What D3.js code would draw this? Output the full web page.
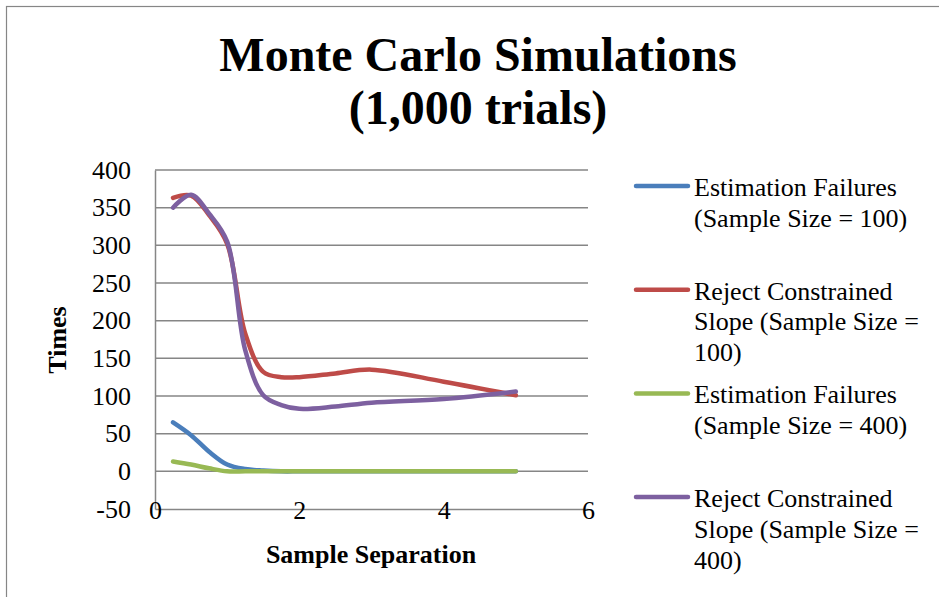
<!DOCTYPE html>
<html>
<head>
<meta charset="utf-8">
<script src="https://cdn.jsdelivr.net/npm/d3@7"></script>
<style>
  html, body { margin: 0; padding: 0; background: #fff; }
  svg { display: block; }
</style>
</head>
<body>
<svg id="chart" width="939" height="597"></svg>
<script>
// ---- data ----
const titleLines = ["Monte Carlo Simulations", "(1,000 trials)"];
const xTitle = "Sample Separation";
const yTitle = "Times";
const xValues = [0.25, 0.5, 0.75, 1, 1.25, 1.5, 1.75, 2, 2.5, 3, 4, 5];
const seriesNames = [
  "Estimation Failures (Sample Size = 100)",
  "Reject Constrained Slope (Sample Size = 100)",
  "Estimation Failures (Sample Size = 400)",
  "Reject Constrained Slope (Sample Size = 400)"
];
const estFail100   = [65, 48, 26, 9, 3, 1, 0, 0, 0, 0, 0, 0];
const rejSlope100  = [363, 366, 340, 302, 183, 132, 125, 125, 130, 135, 119, 101];
const estFail400   = [13, 9, 4, 0, 0, 0, 0, 0, 0, 0, 0, 0];
const rejSlope400  = [350, 367, 342, 305, 161, 101, 88, 83, 86, 91, 96, 106];
const seriesColors = ["#4A7EBB", "#BE4B48", "#98B954", "#7D60A0"];
const yTicks = [-50, 0, 50, 100, 150, 200, 250, 300, 350, 400];
const xTicks = [0, 2, 4, 6];

const seriesValues = [estFail100, rejSlope100, estFail400, rejSlope400];
const FONT = "'Liberation Serif', 'Times New Roman', serif";

// ---- layout ----
const svg = d3.select("#chart");
const plot = { left: 155, right: 588, top: 170, bottom: 509 };
const x = d3.scaleLinear().domain([0, 6]).range([plot.left, plot.right]);
const y = d3.scaleLinear().domain([-50, 400]).range([plot.bottom, plot.top]);
const gridColor = "#868686";

// chart border
svg.append("rect")
  .attr("x", 6.5).attr("y", 6.5).attr("width", 960).attr("height", 620)
  .attr("fill", "none").attr("stroke", gridColor).attr("stroke-width", 1.2);

// title
svg.append("g").selectAll("text").data(titleLines).join("text")
  .attr("x", 478).attr("y", (d, i) => 71 + i * 53)
  .attr("text-anchor", "middle").style("font-family", FONT)
  .attr("font-size", 48).attr("font-weight", "bold").attr("fill", "#000")
  .text(d => d);

// gridlines
svg.append("g").selectAll("line").data(yTicks.filter(t => t !== -50)).join("line")
  .attr("x1", plot.left).attr("x2", plot.right)
  .attr("y1", d => y(d)).attr("y2", d => y(d))
  .attr("stroke", gridColor).attr("stroke-width", 1.5);

// axes
const fmt = d => String(d);
const yAxis = d3.axisLeft(y).tickValues(yTicks).tickFormat(fmt).tickSize(0).tickPadding(24);
const gy = svg.append("g").attr("transform", `translate(${plot.left},0)`).call(yAxis);
gy.select(".domain").attr("stroke", gridColor).attr("stroke-width", 1.5);
gy.selectAll("text").attr("font-size", 26).style("font-family", FONT).attr("fill", "#000");

const xAxis = d3.axisBottom(x).tickValues(xTicks).tickFormat(fmt).tickSize(0).tickPadding(-8);
const gx = svg.append("g").attr("transform", `translate(0,${plot.bottom})`).call(xAxis);
gx.select(".domain").attr("stroke", gridColor).attr("stroke-width", 1.5);
gx.selectAll("text").attr("font-size", 26).style("font-family", FONT)
  .attr("fill", "#000").attr("dy", "0.71em");

// axis titles
svg.append("text")
  .attr("x", 371).attr("y", 563).attr("text-anchor", "middle").style("font-family", FONT)
  .attr("font-size", 26).attr("font-weight", "bold").text(xTitle);
svg.append("text")
  .attr("transform", "translate(66,340) rotate(-90)").attr("text-anchor", "middle")
  .style("font-family", FONT)
  .attr("font-size", 26).attr("font-weight", "bold").text(yTitle);

// series lines
const line = d3.line()
  .x(d => x(d[0])).y(d => y(d[1]))
  .curve(d3.curveCatmullRom.alpha(0.5));
svg.append("g").selectAll("path").data(seriesValues).join("path")
  .attr("d", vals => line(vals.map((v, i) => [xValues[i], v])))
  .attr("fill", "none")
  .attr("stroke", (d, i) => seriesColors[i])
  .attr("stroke-width", 4.5)
  .attr("stroke-linecap", "round")
  .attr("stroke-linejoin", "round");

// legend
const legend = svg.append("g");
const legTop = 186, legStep = 103.7, lineH = 30.7, maxW = 240;
seriesNames.forEach((name, i) => {
  const ly = legTop + i * legStep;
  legend.append("line")
    .attr("x1", 636).attr("x2", 688).attr("y1", ly).attr("y2", ly)
    .attr("stroke", seriesColors[i]).attr("stroke-width", 4.5).attr("stroke-linecap", "round");
  const t = legend.append("text").attr("x", 694).attr("y", ly + 10)
    .style("font-family", FONT).attr("font-size", 26).attr("fill", "#000");
  const words = name.split(" ");
  let lineWords = [], lineNo = 0;
  let tspan = t.append("tspan").attr("x", 694).attr("y", ly + 10);
  words.forEach(w => {
    lineWords.push(w);
    tspan.text(lineWords.join(" "));
    if (tspan.node().getComputedTextLength() > maxW && lineWords.length > 1) {
      lineWords.pop();
      tspan.text(lineWords.join(" "));
      lineWords = [w];
      lineNo++;
      tspan = t.append("tspan").attr("x", 694).attr("y", ly + 10 + lineNo * lineH).text(w);
    }
  });
});
</script>
</body>
</html>
